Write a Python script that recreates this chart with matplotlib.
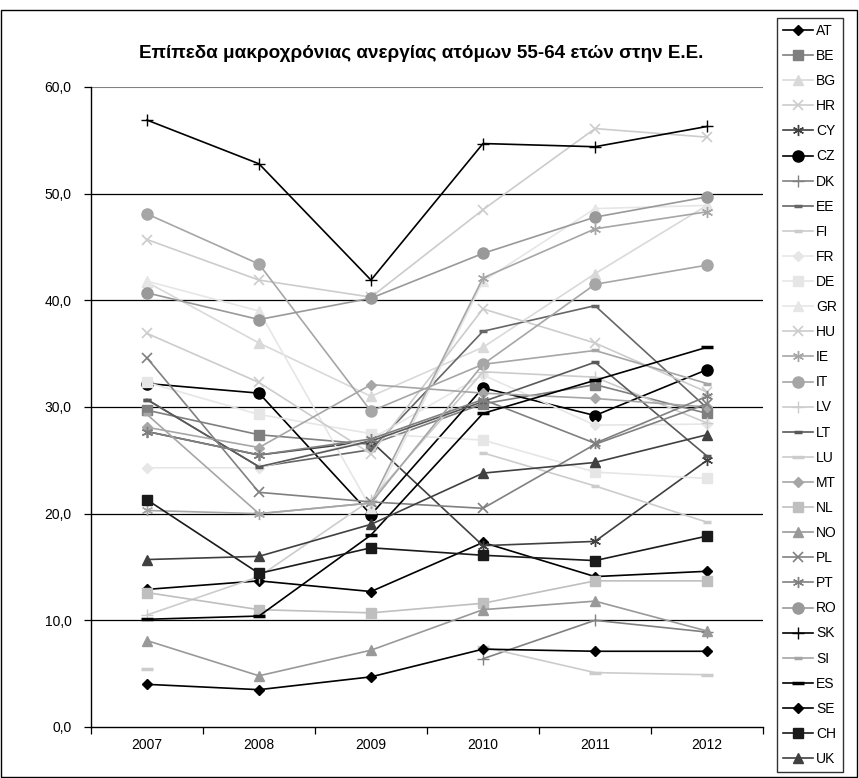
import numpy as np
import matplotlib
matplotlib.use("Agg")
import matplotlib.pyplot as plt
from matplotlib.patches import Rectangle

plt.rcParams['font.family'] = ['Liberation Sans', 'DejaVu Sans']

nan = np.nan
years = ['2007', '2008', '2009', '2010', '2011', '2012']
countries = ['AT', 'BE', 'BG', 'HR', 'CY', 'CZ', 'DK', 'EE', 'FI', 'FR', 'DE', 'GR', 'HU', 'IE',
             'IT', 'LV', 'LT', 'LU', 'MT', 'NL', 'NO', 'PL', 'PT', 'RO', 'SK', 'SI', 'ES', 'SE',
             'CH', 'UK']

AT = [12.9, 13.7, 12.7, 17.3, 14.1, 14.6]
BE = [29.7, 27.4, 26.5, 30.3, 32.1, 29.4]
BG = [41.7, 36.0, 31.0, 35.6, 42.5, 48.9]
HR = [45.7, 41.9, 40.3, 48.5, 56.1, 55.3]
CY = [27.7, 25.5, 26.8, 17.0, 17.4, 25.0]
CZ = [32.2, 31.3, 19.9, 31.8, 29.2, 33.5]
DK = [nan, nan, nan, 6.4, 10.0, 8.9]
EE = [30.7, 24.4, 26.0, 37.1, 39.5, 29.9]
FI = [nan, nan, nan, 25.7, 22.6, 19.2]
FR = [24.3, 24.3, 27.0, 33.0, 28.3, 28.4]
DE = [32.3, 29.3, 27.5, 26.9, 23.9, 23.3]
GR = [41.8, 39.0, 20.5, 41.8, 48.6, 48.9]
HU = [36.9, 32.3, 25.6, 39.2, 36.0, 31.4]
IE = [20.3, 20.0, 21.0, 42.1, 46.7, 48.3]
IT = [48.1, 43.4, 29.6, 34.0, 41.5, 43.3]
LV = [10.5, 14.1, 21.3, 33.3, 32.8, 28.5]
LT = [30.7, 24.4, 26.8, 30.5, 34.2, 25.4]
LU = [5.4, nan, nan, 7.5, 5.1, 4.9]
MT = [28.1, 26.2, 32.1, 31.3, 30.8, 30.0]
NL = [12.6, 11.0, 10.7, 11.6, 13.7, 13.7]
NO = [8.1, 4.8, 7.2, 11.0, 11.8, 9.0]
PL = [34.6, 22.0, 21.1, 20.5, 26.5, 30.3]
PT = [27.7, 25.5, 27.0, 30.7, 26.6, 31.0]
RO = [40.7, 38.2, 40.2, 44.4, 47.8, 49.7]
SK = [56.9, 52.8, 41.9, 54.7, 54.4, 56.3]
SI = [29.3, 20.0, 21.0, 34.0, 35.3, 32.2]
ES = [10.1, 10.4, 18.0, 29.4, 32.5, 35.6]
SE = [4.0, 3.5, 4.7, 7.3, 7.1, 7.1]
CH = [21.3, 14.4, 16.8, 16.1, 15.6, 17.9]
UK = [15.7, 16.0, 19.0, 23.8, 24.8, 27.4]

series = [AT, BE, BG, HR, CY, CZ, DK, EE, FI, FR, DE, GR, HU, IE, IT, LV, LT, LU, MT, NL,
          NO, PL, PT, RO, SK, SI, ES, SE, CH, UK]

star = (6, 2, 0)
# colour, marker, marker size, marker edge width
styles = {
    'AT': ('#000000', 'D', 5, 1),
    'BE': ('#7f7f7f', 's', 7, 1),
    'BG': ('#d9d9d9', '^', 7, 1),
    'HR': ('#cccccc', 'x', 7, 1.2),
    'CY': ('#404040', star, 8, 1),
    'CZ': ('#000000', 'o', 8, 1),
    'DK': ('#808080', '+', 8, 1),
    'EE': ('#666666', '_', 6, 2.5),
    'FI': ('#cccccc', '_', 6, 2.5),
    'FR': ('#e6e6e6', 'D', 5, 1),
    'DE': ('#e6e6e6', 's', 7, 1),
    'GR': ('#e6e6e6', '^', 7, 1),
    'HU': ('#cccccc', 'x', 7, 1.2),
    'IE': ('#a6a6a6', star, 8, 1),
    'IT': ('#a6a6a6', 'o', 8, 1),
    'LV': ('#cccccc', '+', 8, 1),
    'LT': ('#595959', '_', 6, 2.5),
    'LU': ('#cccccc', '_', 8, 2.5),
    'MT': ('#a6a6a6', 'D', 5, 1),
    'NL': ('#bfbfbf', 's', 7, 1),
    'NO': ('#999999', '^', 7, 1),
    'PL': ('#808080', 'x', 7, 1.2),
    'PT': ('#808080', star, 8, 1),
    'RO': ('#999999', 'o', 8, 1),
    'SK': ('#000000', '+', 8, 1),
    'SI': ('#a6a6a6', '_', 6, 2.5),
    'ES': ('#000000', '_', 8, 2.5),
    'SE': ('#000000', 'D', 5, 1),
    'CH': ('#1a1a1a', 's', 7, 1),
    'UK': ('#404040', '^', 7, 1),
}

W, H = 859, 778
fig = plt.figure(figsize=(W / 100, H / 100), dpi=100)
fig.patches.append(Rectangle((1 / W, 1 / H), 856 / W, 767 / H, transform=fig.transFigure,
                             fill=False, edgecolor='black', linewidth=1))

ax = fig.add_axes([91 / W, 1 - 727 / H, (763 - 91) / W, (727 - 87) / H])
x = np.arange(len(years))

handles = []
for name, vals in zip(countries, series):
    c, m, ms, mew = styles[name]
    h, = ax.plot(x, vals, color=c, linewidth=1.2, marker=m, markersize=ms,
                 markerfacecolor=c, markeredgecolor=c, markeredgewidth=mew, label=name)
    handles.append(h)

ax.set_xlim(-0.5, len(years) - 0.5)
ax.set_ylim(0, 60)
yt = np.arange(0, 61, 10)
ax.set_yticks(yt)
ax.set_yticklabels([f"{v:.1f}".replace('.', ',') for v in yt], fontsize=10)
for v in yt[1:-1]:
    ax.axhline(v, color='black', linewidth=0.9, zorder=0)
ax.axhline(60, color='#808080', linewidth=1.5, zorder=0)

ax.set_xticks(np.arange(-0.5, len(years)), minor=False)
ax.set_xticklabels([])
ax.set_xticks(x, minor=True)
ax.set_xticklabels(years, minor=True, fontsize=10)
ax.tick_params(axis='x', which='major', length=5, direction='out', width=0.9)
ax.tick_params(axis='x', which='minor', length=0, pad=8)
ax.tick_params(axis='y', length=5, direction='out', width=0.9, pad=9)

for s in ['top', 'right']:
    ax.spines[s].set_visible(False)
ax.spines['left'].set_linewidth(1.0)
ax.spines['bottom'].set_linewidth(1.0)

fig.text(421 / W, 1 - 53 / H, 'Επίπεδα μακροχρόνιας ανεργίας ατόμων 55-64 ετών στην Ε.Ε.',
         ha='center', va='center', fontsize=13.6, fontweight='bold')

leg = fig.legend(handles=handles, loc='upper left', bbox_to_anchor=(777 / W, 1 - 18 / H),
                 frameon=True, fancybox=False, edgecolor='black', fontsize=10,
                 handlelength=2.2, handletextpad=0.2, labelspacing=0.8, borderpad=0.42,
                 borderaxespad=0)
leg.get_frame().set_linewidth(1.0)

fig.savefig('out.png', dpi=100)
